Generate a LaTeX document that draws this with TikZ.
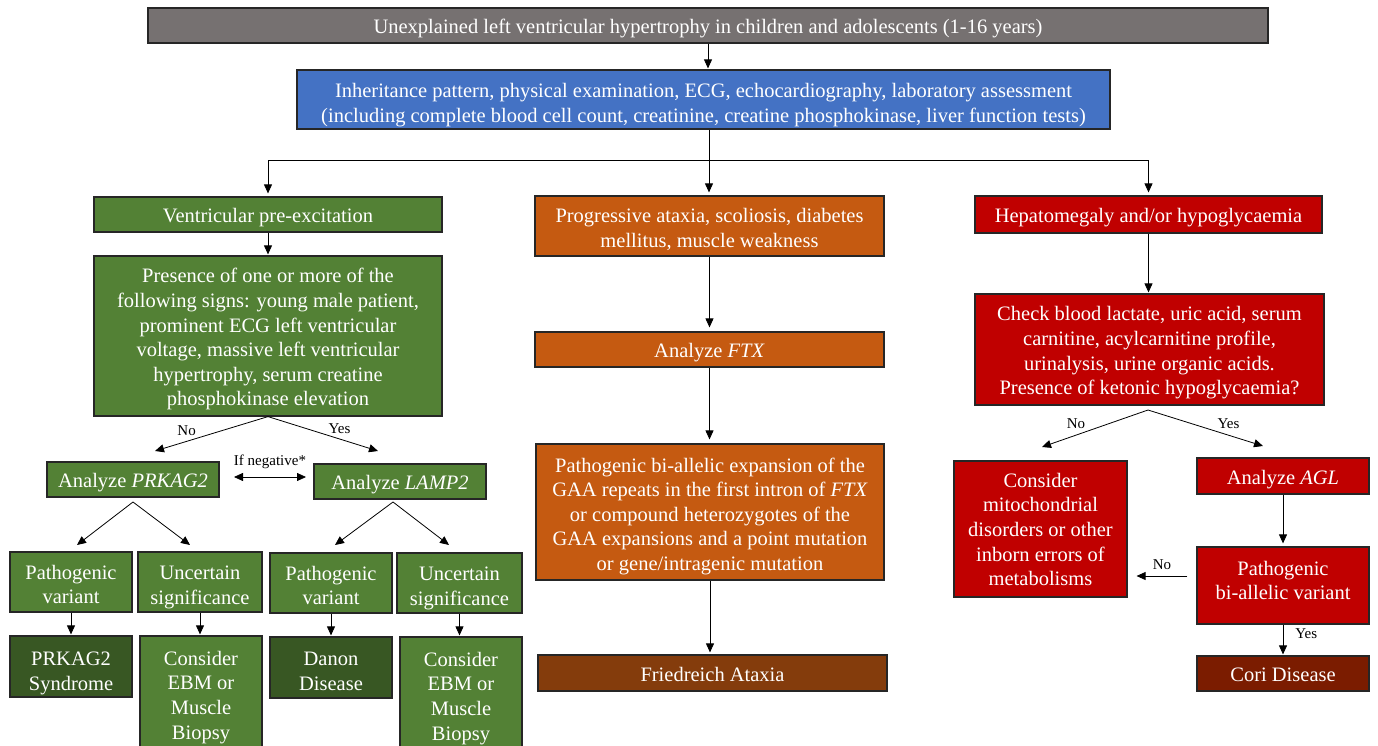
\documentclass[tikz,border=0pt]{standalone}
\usepackage{fontspec}
\setmainfont{Liberation Serif}
\usetikzlibrary{arrows.meta}
\definecolor{cgray}{HTML}{767171}
\definecolor{cblue}{HTML}{4472C4}
\definecolor{cgreen}{HTML}{538135}
\definecolor{cdgreen}{HTML}{385723}
\definecolor{corange}{HTML}{C55A11}
\definecolor{cbrown}{HTML}{843C0C}
\definecolor{cred}{HTML}{C00000}
\definecolor{ccori}{HTML}{7B1C00}
\newcommand{\tsh}[1]{\rule{0pt}{#1pt}}
\newcommand{\bsh}[1]{\rule[-#1pt]{0pt}{0pt}}
\tikzset{
  box/.style={draw=black!85, line width=1.2pt, text=white, align=center, inner sep=0pt,
    font=\fontsize{20.5}{24.6}\selectfont},
  one/.style={execute at begin node={\rule{0pt}{21pt}},
    execute at end node={\rule[-5pt]{0pt}{5pt}}},
  conn/.style={line width=0.8pt, draw=black},
  arr/.style={conn, -{Triangle[length=9pt,width=8pt]}},
  lbl/.style={font=\fontsize{15}{17}\selectfont, text=black, inner sep=0pt},
}
\begin{document}
\begin{tikzpicture}[x=1pt,y=-1pt]
\useasboundingbox (0,0) rectangle (1378,746);
% boxes
\node[box, one, fill=cgray, minimum width=1120, minimum height=35] (top) at (708,25.5) {Unexplained left ventricular hypertrophy in children and adolescents (1-16 years)};
\node[box, fill=cblue, minimum width=813, minimum height=59] (blue) at (703.5,99.5) {\tsh{25}Inheritance pattern, physical examination, ECG, echocardiography, laboratory assessment\\(including complete blood cell count, creatinine, creatine phosphokinase, liver function tests)};
\node[box, one, fill=cgreen, minimum width=348, minimum height=35] (g1) at (268,214.5) {Ventricular pre-excitation};
\node[box, fill=corange, minimum width=349, minimum height=60] (o1) at (709.5,226) {\tsh{21}Progressive ataxia, scoliosis, diabetes\\mellitus, muscle weakness};
\node[box, one, fill=cred, minimum width=347, minimum height=37] (r1) at (1148.5,214.5) {Hepatomegaly and/or hypoglycaemia};
\node[box, fill=cgreen, minimum width=348, minimum height=160] (g2) at (268,336) {\tsh{21}Presence of one or more of the\\following signs: young male patient,\\prominent ECG left ventricular\\voltage, massive left ventricular\\hypertrophy, serum creatine\\phosphokinase elevation};
\node[box, one, fill=corange, minimum width=349, minimum height=35] (o2) at (709.5,349.5) {Analyze \textit{FTX}};
\node[box, fill=corange, minimum width=348, minimum height=136] (o3) at (710,512) {\tsh{23}Pathogenic bi-allelic expansion of the\\GAA repeats in the first intron of \textit{FTX}\\or compound heterozygotes of the\\GAA expansions and a point mutation\\or gene/intragenic mutation};
\node[box, one, fill=cbrown, minimum width=349, minimum height=36] (fa) at (712.5,673) {Friedreich Ataxia};
\node[box, fill=cred, minimum width=349, minimum height=111] (r2) at (1149.5,349.5) {\tsh{21}Check blood lactate, uric acid, serum\\carnitine, acylcarnitine profile,\\urinalysis, urine organic acids.\\Presence of ketonic hypoglycaemia?};
\node[box, one, fill=cgreen, minimum width=172, minimum height=35] (pk) at (133,479.5) {Analyze \textit{PRKAG2}};
\node[box, one, fill=cgreen, minimum width=172, minimum height=35] (lp) at (400,481.5) {Analyze \textit{LAMP2}};
\node[box, fill=cgreen, minimum width=122, minimum height=60] (pv1) at (71,582) {\tsh{19}Pathogenic\\variant};
\node[box, fill=cgreen, minimum width=124, minimum height=60] (us1) at (200,582) {\tsh{25}Uncertain\\significance};
\node[box, fill=cgreen, minimum width=122, minimum height=60] (pv2) at (331,583) {\tsh{19}Pathogenic\\variant};
\node[box, fill=cgreen, minimum width=125, minimum height=60] (us2) at (459.5,583) {\tsh{25}Uncertain\\significance};
\node[box, fill=cdgreen, minimum width=122, minimum height=61] (ps) at (71,666.5) {\tsh{27}PRKAG2\\Syndrome};
\node[box, fill=cgreen, minimum width=122, minimum height=116] (ce1) at (201,694) {\tsh{21}Consider\\EBM or\\Muscle\\Biopsy};
\node[box, fill=cdgreen, minimum width=122, minimum height=61] (dd) at (331,667.5) {\tsh{21}Danon\\Disease};
\node[box, fill=cgreen, minimum width=122, minimum height=116] (ce2) at (461,695) {\tsh{21}Consider\\EBM or\\Muscle\\Biopsy};
\node[box, fill=cred, minimum width=173, minimum height=136] (mito) at (1040.5,529) {\tsh{15}Consider\\mitochondrial\\disorders or other\\inborn errors of\\metabolisms};
\node[box, one, fill=cred, minimum width=172, minimum height=36] (agl) at (1283,476) {Analyze \textit{AGL}};
\node[box, fill=cred, minimum width=172, minimum height=77] (pbv) at (1283,585.5) {Pathogenic\\bi-allelic variant\bsh{10.5}};
\node[box, one, fill=ccori, minimum width=172, minimum height=35] (cori) at (1283,673.5) {Cori Disease};
% coordinates
\coordinate (j) at (709,160);
\coordinate (g2no) at (155,451);
\coordinate (g2yes) at (378,451);
\coordinate (dl) at (234,477);
\coordinate (dr) at (306,477);
\coordinate (pks) at (133,502);
\coordinate (pka) at (77,545);
\coordinate (pkb) at (190,545);
\coordinate (lps) at (393,502);
\coordinate (lpa) at (335,545);
\coordinate (lpb) at (449,545);
\coordinate (r2s) at (1148,410);
\coordinate (r2no) at (1042,447);
\coordinate (r2yes) at (1263,446);
% connectors
\draw[arr, shorten >=1pt] (top.south) -- (top.south |- blue.north);
\draw[conn] (blue.south -| j) -- (j);
\draw[arr, shorten >=3pt] (j) -| (g1.north);
\draw[arr, shorten >=3pt] (j) -- (j |- o1.north);
\draw[arr, shorten >=3pt] (j) -| (r1.north);
\draw[arr, shorten >=1pt] (g1.south) -- (g2.north);
\draw[arr] (g2.south) -- (g2no) node[lbl, pos=0.72, above=5pt] {No};
\draw[arr] (g2.south) -- (g2yes) node[lbl, pos=0.65, above=5pt] {Yes};
\draw[conn, {Triangle[length=9pt,width=8pt]}-{Triangle[length=9pt,width=8pt]}] (dl) -- (dr) node[lbl, midway, above=8pt] {If negative*};
\draw[arr] (pks) -- (pka);
\draw[arr] (pks) -- (pkb);
\draw[arr] (lps) -- (lpa);
\draw[arr] (lps) -- (lpb);
\draw[arr, shorten >=1pt] (pv1.south) -- (ps.north);
\draw[arr, shorten >=1pt] (us1.south) -- (us1.south |- ce1.north);
\draw[arr, shorten >=1pt] (pv2.south) -- (dd.north);
\draw[arr, shorten >=1pt] (us2.south) -- (us2.south |- ce2.north);
\draw[arr, shorten >=4pt] (o1.south) -- (o1.south |- o2.north);
\draw[arr, shorten >=4pt] (o2.south) -- (o2.south |- o3.north);
\draw[arr, shorten >=2pt] (o3.south) -- (o3.south |- fa.north);
\draw[arr, shorten >=1pt] (r1.south) -- (r1.south |- r2.north);
\draw[arr] (r2s) -- (r2no) node[lbl, pos=0.68, above=6pt] {No};
\draw[arr] (r2s) -- (r2yes) node[lbl, pos=0.7, above=6pt] {Yes};
\draw[arr, shorten >=3pt] (agl.south) -- (pbv.north);
\draw[arr, shorten <=9pt, shorten >=9pt] (pbv.west |- 0,576) -- (mito.east |- 0,576) node[lbl, midway, above=6pt] {No};
\draw[arr, shorten >=1pt] (pbv.south) -- (cori.north) node[lbl, pos=0.3, right=12pt] {Yes};
\end{tikzpicture}
\end{document}
